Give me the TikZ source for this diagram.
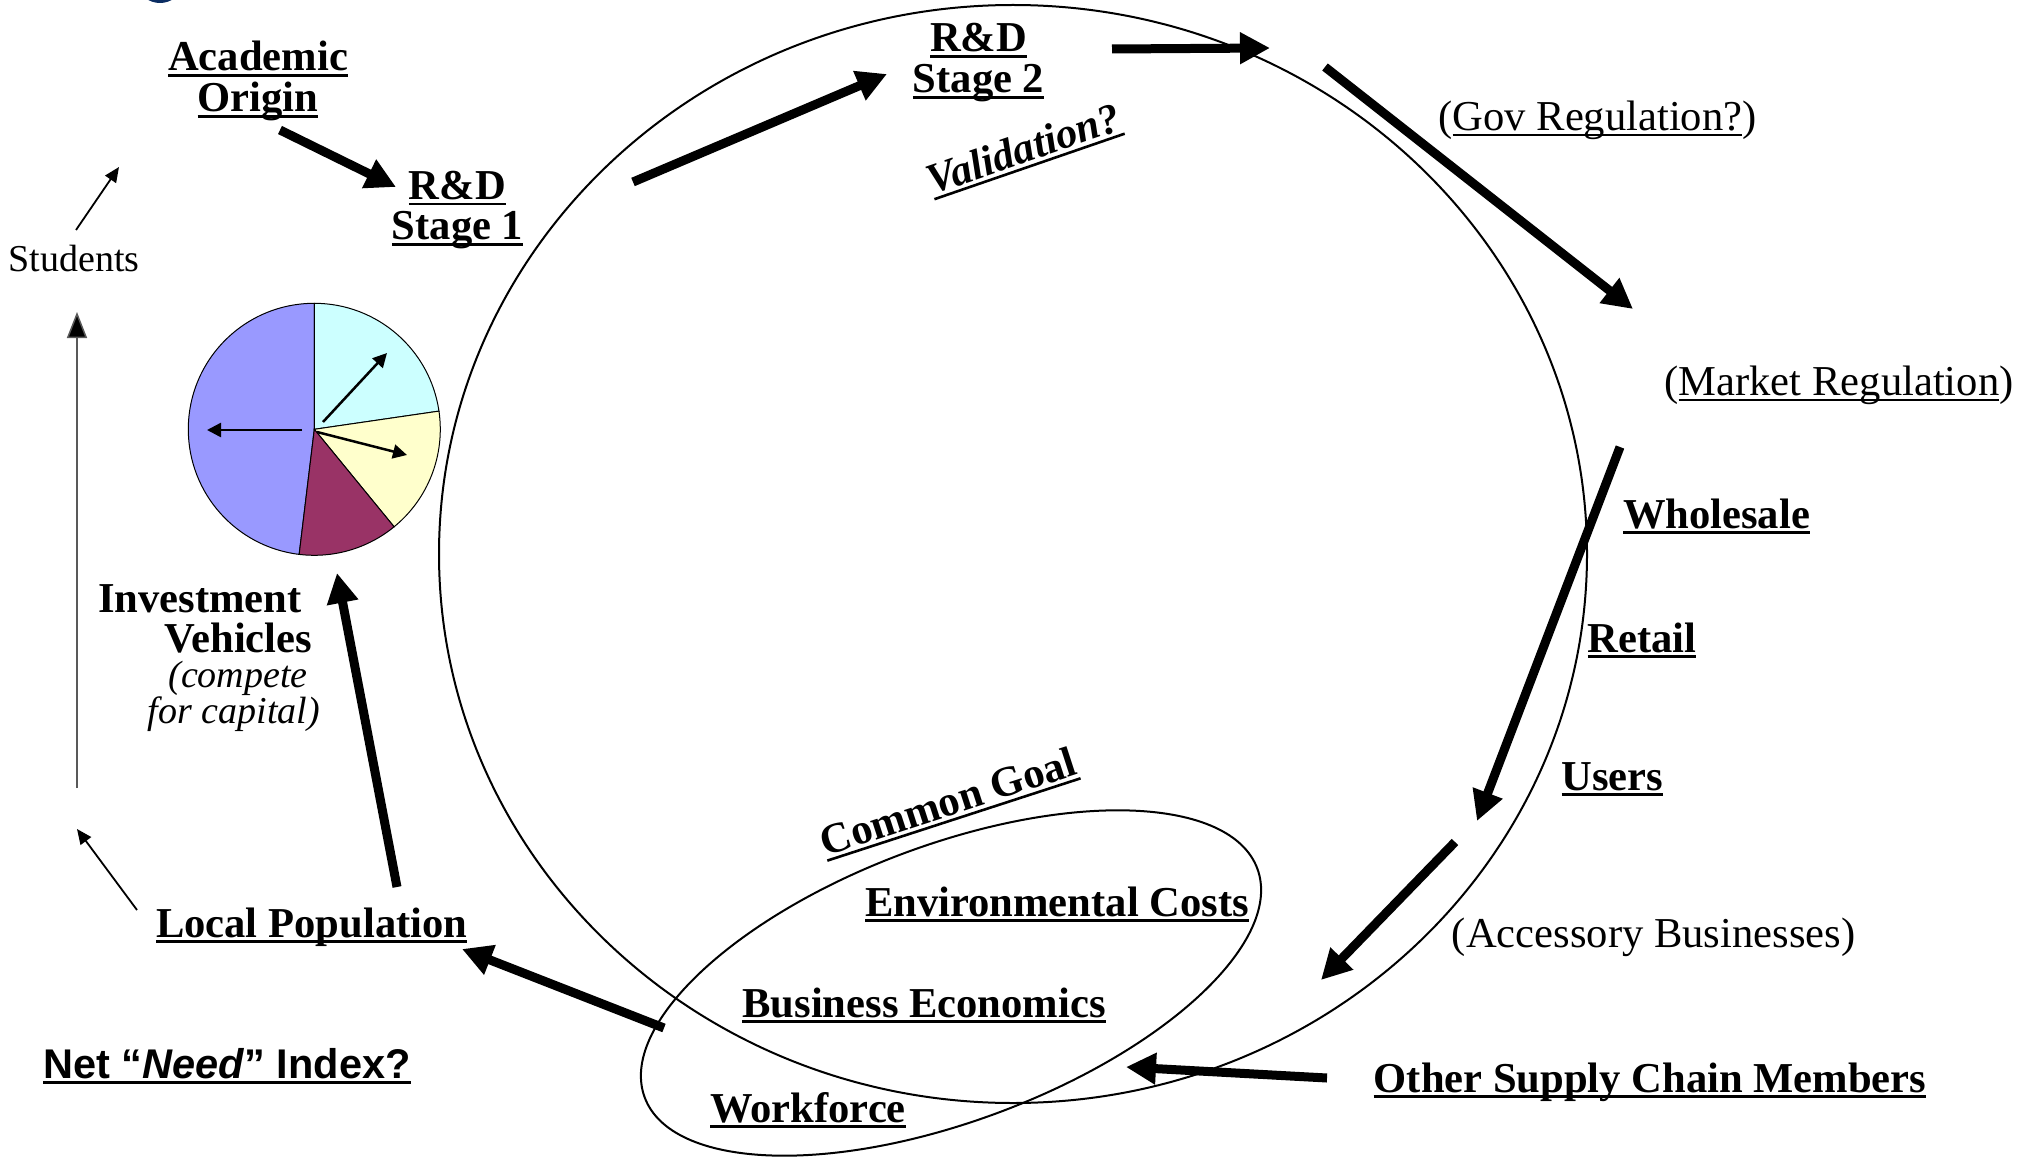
\documentclass[tikz,border=0pt]{standalone}
\usepackage{fontspec}
\setmainfont{Liberation Serif}
\newfontfamily\sansfam{Liberation Sans}
\usetikzlibrary{arrows.meta}
\definecolor{pieblue}{HTML}{9999FF}
\definecolor{piecyan}{HTML}{CCFFFF}
\definecolor{pieyellow}{HTML}{FFFFCC}
\definecolor{piepurple}{HTML}{993366}
\definecolor{logonavy}{HTML}{0B2D63}
\newcommand{\uln}[1]{\begingroup\setbox0\hbox{#1}\rlap{\rule[-6pt]{\wd0}{2.6pt}}\box0\endgroup}
\newcommand{\ulnt}[1]{\begingroup\setbox0\hbox{#1}\rlap{\rule[-5.5pt]{\wd0}{2pt}}\box0\endgroup}
\begin{document}
\begin{tikzpicture}[x=1pt,y=-1pt,
  lbl/.style={inner sep=0pt, anchor=base},
  bhead/.style={lbl, font=\fontsize{42.6}{44}\selectfont\bfseries},
  rtext/.style={lbl, font=\fontsize{42.6}{44}\selectfont},
  itext/.style={lbl, font=\fontsize{38}{40}\selectfont\itshape},
  bigarrow/.style={line width=9pt, -{Triangle[length=30pt,width=30pt]}},
  thinarrow/.style={line width=1.8pt, -{Triangle[length=15pt,width=13pt]}},
  piearrow/.style={line width=2.5pt, -{Triangle[length=14pt,width=14pt]}},
  slice/.style={draw=black, line width=1pt}]
\useasboundingbox (0,0) rectangle (2037,1158);
\fill[white] (0,0) rectangle (2037,1158);
% partial logo at top edge
\begin{scope}
  \clip (0,0) rectangle (2037,1158);
  \fill[logonavy] (160,-13) ellipse [x radius=20pt, y radius=16pt];
\end{scope}

% big cycle and small goal ellipse
\draw[line width=2pt] (1013,554) ellipse [x radius=574pt, y radius=549pt];
\draw[line width=2pt, rotate around={20.5:(951,983)}] (951,983) ellipse [x radius=327pt, y radius=138pt];

% pie chart
\begin{scope}[shift={(314.3,429.3)}, y=1pt]
  \filldraw[fill=pieblue, slice] (0,0) -- (90:126) arc[start angle=90, end angle=263.1, radius=126] -- cycle;
  \filldraw[fill=piecyan, slice] (0,0) -- (8.3:126) arc[start angle=8.3, end angle=90, radius=126] -- cycle;
  \filldraw[fill=pieyellow, slice] (0,0) -- (-50.7:126) arc[start angle=-50.7, end angle=8.3, radius=126] -- cycle;
  \filldraw[fill=piepurple, slice] (0,0) -- (-96.9:126) arc[start angle=-96.9, end angle=-50.7, radius=126] -- cycle;
\end{scope}
\coordinate (p1s) at (302,430); \coordinate (p1e) at (207,430);
\coordinate (p2s) at (323,422); \coordinate (p2e) at (387,353);
\coordinate (p3s) at (317,432); \coordinate (p3e) at (407,455);
\draw[piearrow] (p1s) -- (p1e);
\draw[piearrow] (p2s) -- (p2e);
\draw[piearrow] (p3s) -- (p3e);

% labels
\node[bhead] (acad1) at (258,71) {\uln{Academic}};
\node[bhead] (acad2) at (258,112) {\uln{Origin}};
\node[bhead] (rd1a) at (457.5,199.5) {\uln{R\&D}};
\node[bhead] (rd1b) at (457.5,240) {\uln{Stage 1}};
\node[bhead] (rd2a) at (978.5,52) {\uln{R\&D}};
\node[bhead] (rd2b) at (978.5,93) {\uln{Stage 2}};
\node[lbl, font=\fontsize{42.6}{44}\selectfont\bfseries\itshape, rotate=19] (valid) at (1028,162) {\uln{Validation?}};
\node[rtext] (gov) at (1597.5,131) {(\ulnt{Gov Regulation?})};
\node[rtext] (market) at (1839,395) {(\ulnt{Market Regulation})};
\node[bhead] (whole) at (1716.5,528) {\uln{Wholesale}};
\node[bhead] (retail) at (1642,652) {\uln{Retail}};
\node[bhead] (users) at (1612.5,790) {\uln{Users}};
\node[rtext] (access) at (1653.6,947) {(Accessory Businesses)};
\node[bhead] (other) at (1650,1092) {\uln{Other Supply Chain Members}};
\node[bhead] (env) at (1057,916) {\uln{Environmental Costs}};
\node[bhead] (bus) at (924,1017) {\uln{Business Economics}};
\node[bhead] (work) at (808,1122) {\uln{Workforce}};
\node[bhead, rotate=18] (goal) at (952.5,815) {\uln{Common Goal}};
\node[bhead] (local) at (311.7,937) {\uln{Local Population}};
\node[lbl, font=\fontsize{41.5}{43}\selectfont\sansfam\bfseries] (need) at (227,1078) {\uln{Net “\textit{Need}” Index?}};
\node[lbl, font=\fontsize{38}{40}\selectfont] (stud) at (74,272) {Students};
\node[bhead] (inv1) at (200,612) {Investment};
\node[bhead] (inv2) at (238.3,652) {Vehicles};
\node[itext] (inv3) at (238,687) {(compete};
\node[itext] (inv4) at (234,723) {for capital)};

% thick flow arrows
\coordinate (a1s) at (280,130);   \coordinate (a1e) at (396,187);
\coordinate (a2s) at (633,182);   \coordinate (a2e) at (887,74);
\coordinate (a3s) at (1112,49);   \coordinate (a3e) at (1270,48);
\coordinate (a4s) at (1325,67);   \coordinate (a4e) at (1633,309);
\coordinate (a5s) at (1620,447);  \coordinate (a5e) at (1477,821);
\coordinate (a6s) at (1455,842);  \coordinate (a6e) at (1321,980);
\coordinate (a7s) at (1327,1078); \coordinate (a7e) at (1126,1067);
\coordinate (a8s) at (664,1028);  \coordinate (a8e) at (462,949);
\coordinate (a9s) at (397,887);   \coordinate (a9e) at (337,573);
\foreach \i in {1,...,9} {\draw[bigarrow] (a\i s) -- (a\i e);}

% thin arrows on the left
\coordinate (t1s) at (76,230);  \coordinate (t1e) at (119,167);
\coordinate (t2s) at (77,788);  \coordinate (t2e) at (77,312);
\coordinate (t3s) at (137,910); \coordinate (t3e) at (77,829);
\draw[thinarrow] (t1s) -- (t1e);
\draw[line width=1.5pt, draw=black!65, -{Triangle[length=26pt,width=20pt,fill=black]}] (t2s) -- (t2e);
\draw[thinarrow] (t3s) -- (t3e);
\end{tikzpicture}
\end{document}
